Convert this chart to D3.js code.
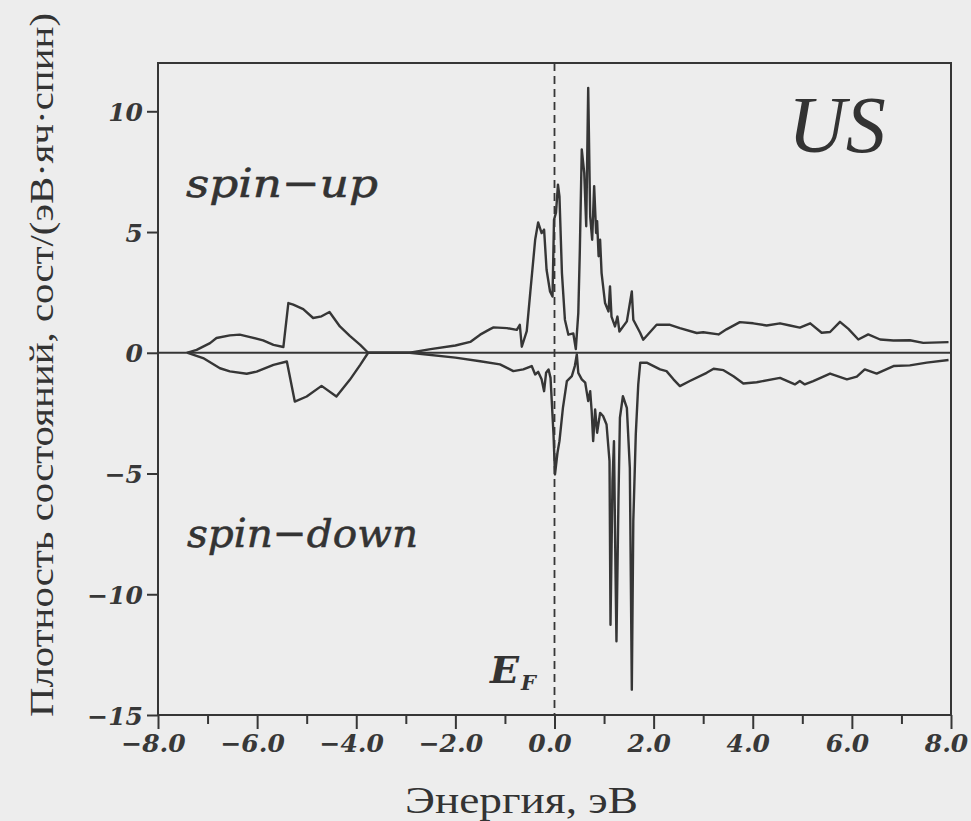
<!DOCTYPE html>
<html>

<head>
    <meta charset="utf-8">
    <style type="text/css">
        body {
            margin: 0;
            background: #ededed;
        }

        svg {
            display: block;
        }

        .axis path,
        .axis line {
            stroke: #363636;
            stroke-width: 2px;
        }
    </style>
    <title>DOS US</title>
</head>

<body>
    <div id="chart"></div>

    <script src="https://cdn.jsdelivr.net/npm/d3@7"></script>
    <script>

        // energy grid (eV) and DOS values
        var upE = [-7.42, -7.22, -6.95, -6.82, -6.55, -6.35, -6.14, -5.88, -5.67, -5.47, -5.37, -5.27, -5.07, -4.87,
            -4.70, -4.54, -4.33, -4.13, -3.92, -3.76, -2.92, -2.5, -2.0, -1.7, -1.5, -1.30, -1.23, -0.96, -0.76,
            -0.70, -0.66, -0.56, -0.49, -0.39, -0.33, -0.26, -0.21, -0.16, -0.09, -0.04, -0.01, 0.03, 0.07, 0.10,
            0.15, 0.21, 0.28, 0.38, 0.43, 0.48, 0.51, 0.55, 0.60, 0.64, 0.68, 0.72, 0.76, 0.80, 0.84, 0.86, 0.89,
            0.92, 0.95, 1.02, 1.09, 1.12, 1.15, 1.22, 1.27, 1.31, 1.46, 1.56, 1.59, 1.73, 1.79, 2.06, 2.33, 2.53,
            2.87, 3.0, 3.31, 3.47, 3.74, 4.01, 4.28, 4.55, 4.75, 4.95, 5.16, 5.39, 5.56, 5.76, 5.93, 6.13, 6.33,
            6.57, 6.84, 7.17, 7.44, 7.95];
        var upDos = [0, 0.12, 0.4, 0.61, 0.72, 0.75, 0.65, 0.51, 0.33, 0.24, 2.06, 1.99, 1.81, 1.44,
            1.51, 1.69, 1.09, 0.70, 0.33, 0, 0, 0.15, 0.3, 0.45, 0.75, 0.98, 1.05, 1.02, 0.95,
            1.16, 0.25, 0.9, 2.47, 4.68, 5.40, 4.96, 5.1, 3.44, 2.54, 2.33, 5.51, 5.8, 6.96, 6.48,
            3.30, 1.37, 0.75, 0.8, 0.15, 1.64, 4.13, 8.42, 7.45, 5.24, 10.97, 5.65, 4.68, 6.9, 4.96, 5.45, 4.0,
            4.68, 3.30, 2.06, 1.71, 2.75, 1.50, 1.09, 1.5, 0.88, 1.30, 2.54, 1.37, 0.82, 0.54, 1.16, 1.16, 1.02,
            0.82, 0.85, 0.76, 0.97, 1.27, 1.22, 1.13, 1.22, 1.13, 1.04, 1.22, 0.83, 0.86, 1.28, 0.99, 0.55, 0.76,
            0.55, 0.51, 0.52, 0.41, 0.44];

        var downE = [-7.4, -7.09, -6.75, -6.55, -6.21, -6.01, -5.67, -5.40, -5.24, -5.00, -4.70, -4.40, -4.13,
            -3.92, -3.76, -2.92, -2.0, -1.5, -1.10, -0.83, -0.63, -0.46, -0.39, -0.33, -0.26, -0.21, -0.17, -0.12,
            -0.08, -0.02, 0.01, 0.06, 0.10, 0.17, 0.25, 0.35, 0.41, 0.45, 0.48, 0.55, 0.62, 0.68, 0.72, 0.75, 0.78,
            0.82, 0.86, 0.92, 0.98, 1.05, 1.11, 1.13, 1.17, 1.20, 1.23, 1.25, 1.29, 1.32, 1.38, 1.46, 1.52, 1.56,
            1.59, 1.64, 1.69, 1.73, 1.86, 2.13, 2.26, 2.40, 2.53, 2.73, 3.07, 3.21, 3.41, 3.61, 3.81, 4.08, 4.55,
            4.85, 4.95, 5.05, 5.22, 5.56, 5.90, 6.10, 6.26, 6.50, 6.84, 7.17, 7.51, 7.95];
        var downDos = [0, -0.22, -0.64, -0.77, -0.87, -0.78, -0.50, -0.36, -2.02, -1.81, -1.37, -1.81, -1.12,
            -0.5, 0, 0, -0.2, -0.35, -0.48, -0.76, -0.69, -0.55, -0.90, -0.79, -1.10, -1.59, -0.83, -0.69,
            -1.04, -3.38, -5.04, -4.14, -3.66, -2.28, -1.17, -0.97, -0.55, -0.07, -0.83, -1.10, -1.24, -2.0, -1.59, -2.42, -3.66,
            -2.35, -3.31, -2.49, -2.62, -2.97, -4.49, -11.26, -5.32, -3.66, -8.9, -11.95, -6.15, -2.69, -1.80, -2.28, -4.77, -13.95,
            -6.98, -3.38, -1.31, -0.41, -0.41, -0.69, -0.76, -1.10, -1.38, -1.17, -0.83, -0.66, -0.72, -0.97, -1.27, -1.22, -1.04,
            -1.31, -1.17, -1.31, -1.17, -0.86, -1.10, -0.99, -0.69, -0.86, -0.55, -0.52, -0.41, -0.30];

        var xMajor = [-8, -6, -4, -2, 0, 2, 4, 6, 8];
        var xMinor = [-7, -5, -3, -1, 1, 3, 5, 7];
        var yTicks = [-15, -10, -5, 0, 5, 10];

        var width = 971, height = 821;
        var margin = { top: 63, right: 20, bottom: 106, left: 158 };

        var svg = d3.select("#chart")
            .append("svg")
            .attr("width", width)
            .attr("height", height);

        var x = d3.scaleLinear().domain([-8, 8]).range([margin.left, width - margin.right]);
        var y = d3.scaleLinear().domain([-15, 12]).range([height - margin.bottom, margin.top]);

        var ink = "#363636";
        var tickFont = "'DejaVu Serif', serif";

        function styleTicks(sel) {
            sel.style("font-family", tickFont)
                .style("font-style", "italic")
                .style("font-weight", "bold")
                .style("font-size", "25px")
                .attr("fill", "#383838");
        }

        //minor x ticks first, majors with labels on top
        svg.append("g")
            .attr("class", "axis")
            .attr("transform", "translate(0," + y(-15) + ")")
            .call(d3.axisBottom(x).tickValues(xMinor).tickSize(9).tickFormat(""))
            .select(".domain").remove();

        svg.append("g")
            .attr("class", "axis")
            .attr("transform", "translate(0," + y(-15) + ")")
            .call(d3.axisBottom(x).tickValues(xMajor).tickSize(14).tickPadding(5).tickFormat(d3.format(".1f")))
            .call(function (g) { g.select(".domain").remove(); })
            .selectAll("text").attr("dx", -5).call(styleTicks);

        svg.append("g")
            .attr("class", "axis")
            .attr("transform", "translate(" + x(-8) + ",0)")
            .call(d3.axisLeft(y).tickValues(yTicks).tickSize(11).tickPadding(4).tickFormat(d3.format("d")))
            .call(function (g) { g.select(".domain").remove(); })
            .selectAll("text").attr("dy", "0.36em").call(styleTicks);

        // frame
        svg.append("rect")
            .attr("x", x(-8))
            .attr("y", y(12))
            .attr("width", x(8) - x(-8))
            .attr("height", y(-15) - y(12))
            .attr("fill", "none")
            .attr("stroke", ink)
            .attr("stroke-width", 2);

        // zero line
        svg.append("line")
            .attr("x1", x(-8)).attr("x2", x(8))
            .attr("y1", y(0)).attr("y2", y(0))
            .attr("stroke", ink)
            .attr("stroke-width", 2);

        // Fermi level
        svg.append("line")
            .attr("x1", x(0)).attr("x2", x(0))
            .attr("y1", y(12)).attr("y2", y(-15))
            .attr("stroke", ink)
            .attr("stroke-width", 1.8)
            .attr("stroke-dasharray", "8,5");

        var line = d3.line()
            .x(function (d) { return x(d[0]); })
            .y(function (d) { return y(d[1]); });

        var up = d3.zip(upE, upDos);
        var down = d3.zip(downE, downDos);

        [up, down].forEach(function (series) {
            svg.append("path")
                .datum(series)
                .attr("d", line)
                .attr("fill", "none")
                .attr("stroke", ink)
                .attr("stroke-width", 2.4)
                .attr("stroke-linejoin", "round");
        });

        // labels inside the plot
        var serif = "'Liberation Serif', 'Times New Roman', serif";

        svg.append("text")
            .attr("x", 788).attr("y", 152)
            .style("font-family", serif)
            .style("font-style", "italic")
            .style("font-size", "80px")
            .attr("fill", "#333")
            .text("US");

        svg.append("text")
            .attr("x", 186).attr("y", 197)
            .attr("textLength", 192)
            .attr("lengthAdjust", "spacingAndGlyphs")
            .style("font-family", tickFont)
            .style("font-style", "italic")
            .style("font-size", "40px")
            .attr("fill", "#333")
            .attr("stroke", "#333")
            .attr("stroke-width", 0.6)
            .text("spin\u2212up");

        svg.append("text")
            .attr("x", 187).attr("y", 547)
            .attr("textLength", 231)
            .attr("lengthAdjust", "spacingAndGlyphs")
            .style("font-family", tickFont)
            .style("font-style", "italic")
            .style("font-size", "40px")
            .attr("fill", "#333")
            .attr("stroke", "#333")
            .attr("stroke-width", 0.6)
            .text("spin\u2212down");

        var ef = svg.append("text")
            .attr("x", 490).attr("y", 683)
            .style("font-family", tickFont)
            .style("font-style", "italic")
            .style("font-weight", "bold")
            .style("font-size", "38px")
            .attr("fill", "#333")
            .text("E");
        ef.append("tspan")
            .attr("dy", 7)
            .attr("dx", 2)
            .style("font-size", "21px")
            .text("F");

        // axis titles
        svg.append("text")
            .attr("x", 405).attr("y", 813)
            .attr("textLength", 233)
            .attr("lengthAdjust", "spacingAndGlyphs")
            .style("font-family", serif)
            .style("font-size", "38px")
            .attr("fill", "#333")
            .text("Энергия, эВ");

        svg.append("text")
            .attr("transform", "translate(53,717) rotate(-90)")
            .attr("textLength", 704)
            .attr("lengthAdjust", "spacingAndGlyphs")
            .style("font-family", serif)
            .style("font-size", "34px")
            .attr("fill", "#333")
            .text("Плотность состояний, сост/(эВ·яч·спин)");

    </script>
</body>

</html>
